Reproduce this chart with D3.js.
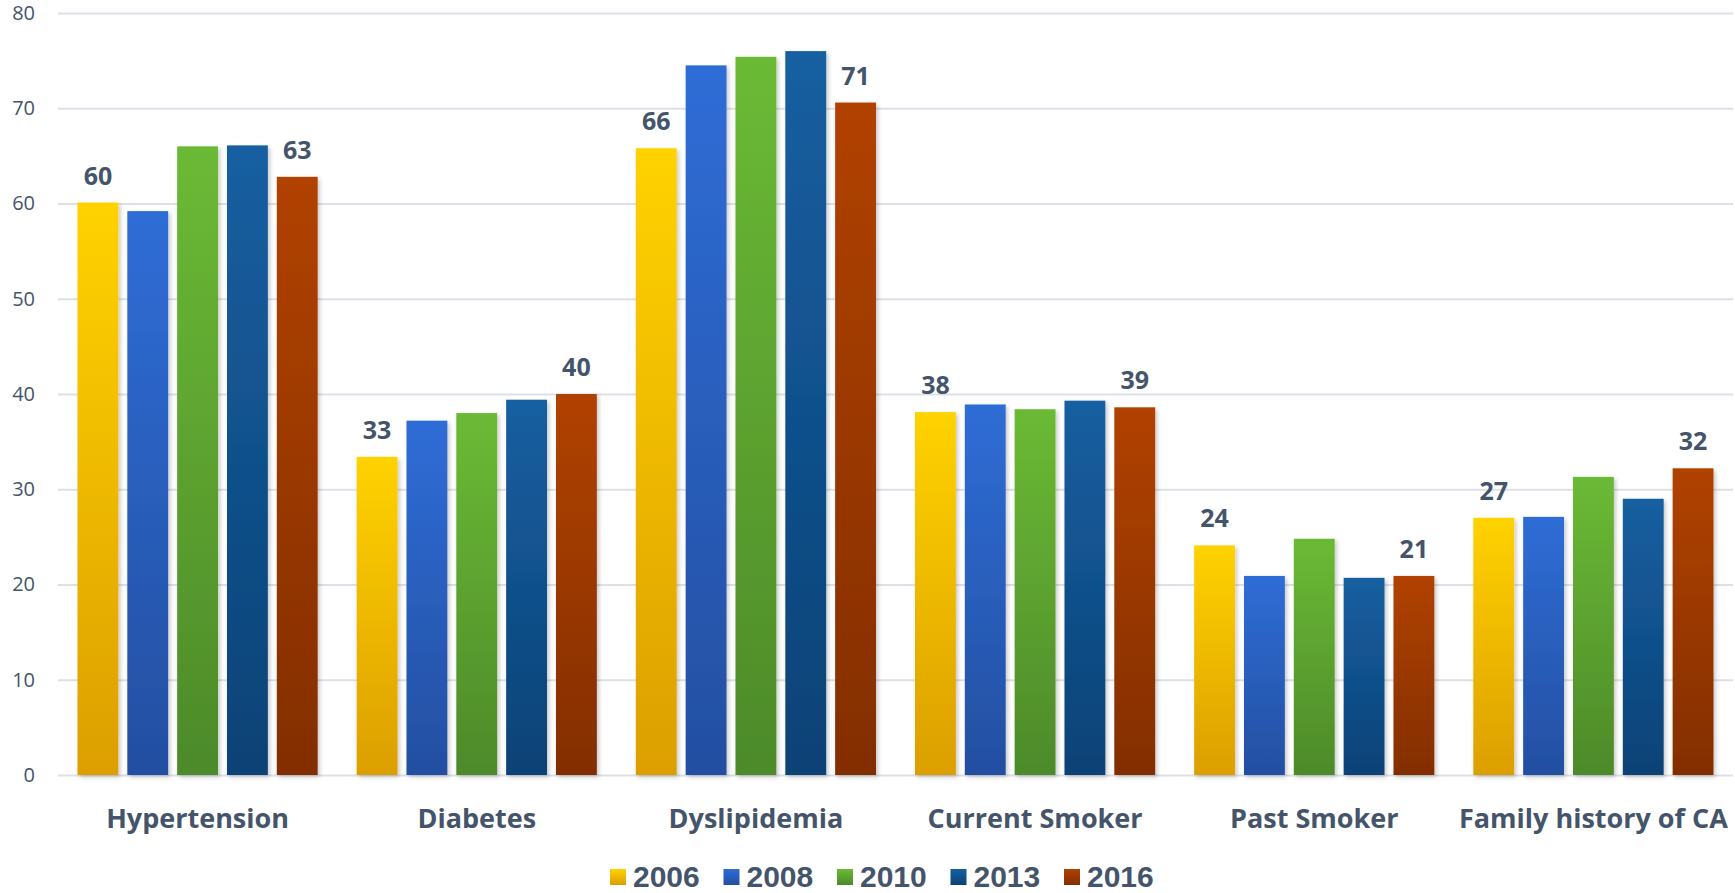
<!DOCTYPE html>
<html>
<head>
<meta charset="utf-8">
<script src="https://cdn.jsdelivr.net/npm/d3@7"></script>
<style>
  body { margin: 0; background: #fff; }
  svg text { font-family: "Open Sans", "Noto Sans", sans-serif; fill: #44546a; }
</style>
</head>
<body>
<svg width="1735" height="893"></svg>
<script>
// risk factors by survey year
var categories = ["Hypertension", "Diabetes", "Dyslipidemia", "Current Smoker", "Past Smoker", "Family history of CA"];
var years = ["2006", "2008", "2010", "2013", "2016"];
var v2006 = [60.1, 33.4, 65.8, 38.1, 24.1, 27.0];
var v2008 = [59.2, 37.2, 74.5, 38.9, 20.9, 27.1];
var v2010 = [66.0, 38.0, 75.4, 38.4, 24.8, 31.3];
var v2013 = [66.1, 39.4, 76.0, 39.3, 20.7, 29.0];
var v2016 = [62.8, 40.0, 70.6, 38.6, 20.9, 32.2];
var yTicks = [0, 10, 20, 30, 40, 50, 60, 70, 80];

var series = [v2006, v2008, v2010, v2013, v2016];
var topColors = ["#ffd200", "#2f6dd6", "#6bba35", "#155fa1", "#b14201"];
var bottomColors = ["#dc9f00", "#234fa1", "#4d8a2a", "#0d4276", "#832e01"];

var svg = d3.select("svg");
var margin = {left: 58, right: 2, top: 13, bottom: 118};
var width = +svg.attr("width"), height = +svg.attr("height");

var x0 = d3.scaleBand().domain(categories).range([margin.left, width - margin.right]);
var x1 = d3.scaleBand().domain(years).range([19.5, x0.bandwidth() - 19.5]).paddingInner(0.18);
var y = d3.scaleLinear().domain([0, 80]).range([height - margin.bottom, margin.top]);

var defs = svg.append("defs");
years.forEach(function (yr, i) {
    var g = defs.append("linearGradient").attr("id", "grad" + yr)
        .attr("x1", 0).attr("y1", 0).attr("x2", 0).attr("y2", 1);
    g.append("stop").attr("offset", "0%").attr("stop-color", topColors[i]);
    g.append("stop").attr("offset", "100%").attr("stop-color", bottomColors[i]);
});
var shadow = defs.append("filter").attr("id", "shadow")
    .attr("x", "-20%").attr("y", "-5%").attr("width", "150%").attr("height", "115%");
shadow.append("feDropShadow").attr("dx", 2).attr("dy", 2).attr("stdDeviation", 2)
    .attr("flood-color", "#000").attr("flood-opacity", 0.22);

// gridlines + y labels
var yAxis = svg.append("g").attr("transform", "translate(" + margin.left + ",0)")
    .call(d3.axisLeft(y).tickValues(yTicks).tickSize(-(width - margin.left - margin.right)).tickPadding(23));
yAxis.select(".domain").remove();
yAxis.selectAll(".tick line").attr("stroke", "#dde1e7").attr("stroke-width", 2);
yAxis.selectAll(".tick text").attr("font-size", 20).style("fill", "#44546a")
    .attr("font-family", "Open Sans, sans-serif");

var rows = [];
categories.forEach(function (c, ci) {
    years.forEach(function (yr, si) {
        rows.push({cat: c, year: yr, si: si, value: series[si][ci]});
    });
});

var bars = svg.append("g").attr("filter", "url(#shadow)");
bars.selectAll("rect").data(rows).enter().append("rect")
    .attr("x", function (d) { return x0(d.cat) + x1(d.year); })
    .attr("y", function (d) { return y(d.value); })
    .attr("width", x1.bandwidth())
    .attr("height", function (d) { return y(0) - y(d.value); })
    .attr("fill", function (d) { return "url(#grad" + d.year + ")"; });

// value labels on first and last year only
svg.append("g").selectAll("text")
    .data(rows.filter(function (d) { return d.si === 0 || d.si === 4; }))
    .enter().append("text")
    .attr("x", function (d) { return x0(d.cat) + x1(d.year) + x1.bandwidth() / 2; })
    .attr("y", function (d) { return y(d.value) - 18; })
    .attr("text-anchor", "middle")
    .attr("font-size", 25).attr("font-weight", "bold")
    .text(function (d) { return Math.round(d.value); });

// category labels
svg.append("g").selectAll("text").data(categories).enter().append("text")
    .attr("x", function (d) { return x0(d) + x0.bandwidth() / 2; })
    .attr("y", 828)
    .attr("text-anchor", "middle")
    .attr("font-size", 27).attr("font-weight", "bold")
    .text(function (d) { return d; });

// legend
var legend = svg.append("g").selectAll("g").data(years).enter().append("g")
    .attr("transform", function (d, i) { return "translate(" + (610 + i * 113.5) + ",869)"; });
legend.append("rect").attr("width", 16).attr("height", 16)
    .attr("fill", function (d) { return "url(#grad" + d + ")"; });
legend.append("text").attr("x", 23).attr("y", 18)
    .attr("font-size", 30).attr("font-weight", "bold")
    .style("font-family", "Liberation Sans, Arial, sans-serif")
    .text(function (d) { return d; });
</script>
</body>
</html>
